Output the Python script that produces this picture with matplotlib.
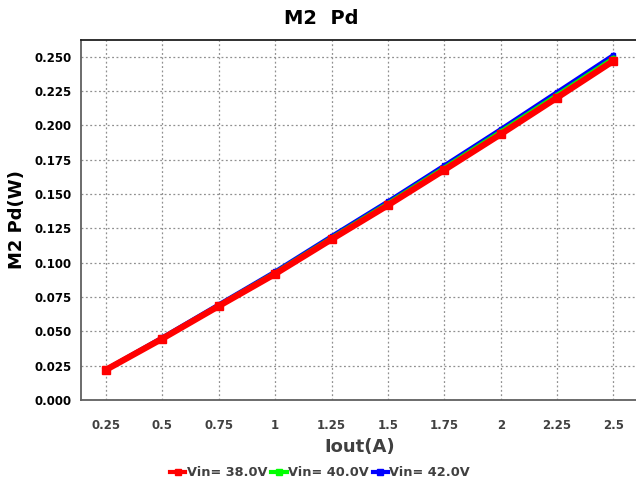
import numpy as np
import matplotlib.pyplot as plt
from matplotlib.lines import Line2D

plt.rcParams['font.family'] = ['DejaVu Sans']

# data
iout = [0.25, 0.5, 0.75, 1, 1.25, 1.5, 1.75, 2, 2.25, 2.5]
xtick_labels = ['0.25', '0.5', '0.75', '1', '1.25', '1.5', '1.75', '2', '2.25', '2.5']
pd_38 = [0.0220, 0.0447, 0.0684, 0.0918, 0.1170, 0.1418, 0.1675, 0.1935, 0.2201, 0.2469]
pd_40 = [0.0222, 0.0452, 0.0690, 0.0928, 0.1182, 0.1433, 0.1692, 0.1955, 0.2222, 0.2490]
pd_42 = [0.0224, 0.0456, 0.0696, 0.0936, 0.1193, 0.1446, 0.1708, 0.1972, 0.2242, 0.2512]
series = [('Vin= 42.0V', pd_42, '#0000ff'),
          ('Vin= 40.0V', pd_40, '#00ff00'),
          ('Vin= 38.0V', pd_38, '#ff0000')]

fig = plt.figure(figsize=(6.36, 4.91), dpi=100)
ax = fig.add_axes([81/636, 1-400/491, 1-81/636, 360/491])

for name, vals, col in series:
    lw = 4.5 if col == '#ff0000' else 3
    ax.plot(iout, vals, color=col, linewidth=lw, marker='s',
            markersize=6 if col == '#ff0000' else 3, zorder=3)

ax.set_xlim(0.139, 2.6)
ax.set_ylim(0, 0.2621)
ax.set_xticks(iout)
ax.set_xticklabels(xtick_labels)
ax.set_yticks(np.arange(0, 0.26, 0.025))
ax.set_yticklabels(['%.3f' % v for v in np.arange(0, 0.26, 0.025)])
ax.grid(True, linestyle=(0, (1.5, 2)), color='#909090', linewidth=0.9)

for lbl in ax.get_xticklabels():
    lbl.set_fontweight('bold')
    lbl.set_fontsize(8.5)
    lbl.set_color('#404040')
for lbl in ax.get_yticklabels():
    lbl.set_fontweight('bold')
    lbl.set_fontsize(8.5)
ax.tick_params(axis='both', length=0)
ax.tick_params(axis='x', pad=13.5)
ax.tick_params(axis='y', pad=7)

ax.spines['right'].set_visible(False)
ax.spines['top'].set_color('#202020')
ax.spines['left'].set_color('#606060')
ax.spines['bottom'].set_color('#606060')
ax.spines['left'].set_linewidth(1.3)
ax.spines['bottom'].set_linewidth(1.3)
ax.spines['top'].set_linewidth(1.3)

fig.text(321/636, 1-19/491, 'M2  Pd', ha='center', va='center',
         fontsize=14, fontweight='bold')
fig.text(360/636, 1-447/491, 'Iout(A)', ha='center', va='center',
         fontsize=13, fontweight='bold', color='#404040')
fig.text(17/636, 1-220/491, 'M2 Pd(W)', ha='center', va='center',
         rotation=90, fontsize=13, fontweight='bold')

handles = [Line2D([], [], color=c, linewidth=3, marker='s', markersize=4)
           for _, _, c in reversed(series)]
labels = [n for n, _, _ in reversed(series)]
fig.legend(handles, labels, loc='center', bbox_to_anchor=(320/636, 1-473/491),
           ncol=3, frameon=False, handlelength=1.2, handletextpad=0.1,
           columnspacing=0.3, prop={'weight': 'bold', 'size': 9.3},
           labelcolor='#404040')

plt.savefig('out.png', dpi=100)
